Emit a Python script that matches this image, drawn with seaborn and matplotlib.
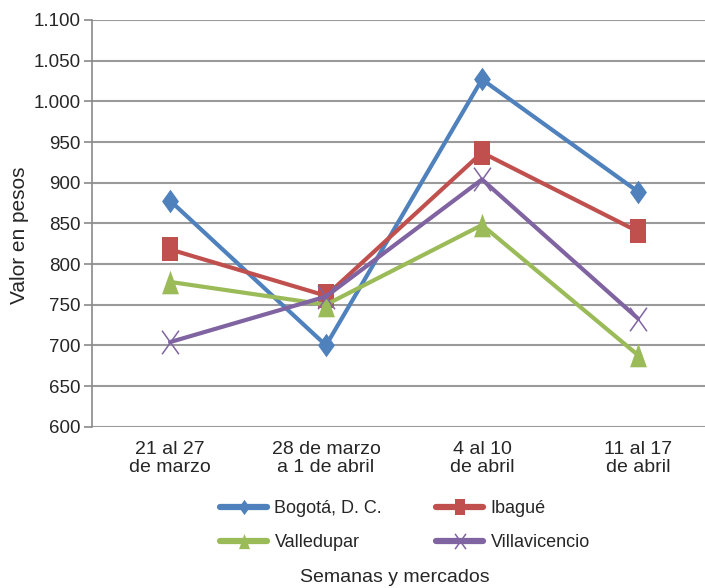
import pandas as pd
import matplotlib
matplotlib.use("Agg")
import matplotlib.pyplot as plt
import matplotlib.ticker as mticker
from matplotlib.path import Path
import seaborn as sns

# Data
semanas = ["21 al 27\nde marzo", "28 de marzo\na 1 de abril", "4 al 10\nde abril", "11 al 17\nde abril"]
bogota = [878, 700, 1027, 889]
ibague = [818, 761, 937, 840]
valledupar = [778, 750, 848, 688]
villavicencio = [704, 760, 904, 733]
mercados = ["Bogotá, D. C.", "Ibagué", "Valledupar", "Villavicencio"]

colors = ["#4F81BD", "#C0504D", "#9BBB59", "#8064A2"]

# markers are a bit taller than wide in the original
w, h = 0.5, 0.7
diamond = Path([(0, h), (w, 0), (0, -h), (-w, 0), (0, h)], closed=True)
square = Path([(-w, -h), (w, -h), (w, h), (-w, h), (-w, -h)], closed=True)
triangle = Path([(0, h), (w, -h), (-w, -h), (0, h)], closed=True)
cross = Path([(-w, -h), (w, h), (-w, h), (w, -h)],
             [Path.MOVETO, Path.LINETO, Path.MOVETO, Path.LINETO])
markers = [diamond, square, triangle, cross]

df = pd.DataFrame({
    "Semana": semanas * 4,
    "Valor": bogota + ibague + valledupar + villavicencio,
    "Mercado": [m for m in mercados for _ in semanas],
})

sns.set_style("white")
plt.rcParams["font.family"] = ["Liberation Sans", "DejaVu Sans"]

fig = plt.figure(figsize=(7.05, 5.88), dpi=100)
ax = fig.add_axes([92 / 705, 1 - 426.7 / 588, 624 / 705, 406.7 / 588])

sns.lineplot(data=df, x="Semana", y="Valor", hue="Mercado",
             palette=colors, sort=False, linewidth=3, ax=ax, legend=False)
for line, m, c in zip(ax.lines, markers, colors):
    line.set_marker(m)
    line.set_markersize(17)
    line.set_markeredgecolor(c)
    line.set_markeredgewidth(1.1 if m is cross else 0)
    line.set_markerfacecolor(c)

ax.set_ylim(600, 1100)
ax.set_xlim(-0.5, 3.5)
ax.yaxis.set_major_locator(mticker.MultipleLocator(50))
ax.yaxis.set_major_formatter(mticker.FuncFormatter(lambda v, p: f"{int(v):,}".replace(",", ".")))
ax.grid(axis="y", color="#9a9a9a", linewidth=1.5)
ax.set_axisbelow(True)
for s in ["top", "right", "bottom"]:
    ax.spines[s].set_visible(False)
ax.spines["left"].set_color("#8a8a8a")
ax.spines["left"].set_linewidth(1.2)
ax.tick_params(axis="y", length=6, width=1.2, color="#8a8a8a", labelsize=13.5, pad=2, left=True)
ax.tick_params(axis="x", length=0, labelsize=14, pad=10)
for t in ax.get_xticklabels():
    t.set_linespacing(1.1)
ax.set_xlabel("")
ax.set_ylabel("Valor en pesos", fontsize=15)
ax.yaxis.set_label_coords(-0.101, 0.47)

handles = [plt.Line2D([], [], color=c, marker=m, markersize=11, linewidth=4.5,
                      markeredgecolor=c, markeredgewidth=1.1 if m is cross else 0)
           for c, m in zip(colors, markers)]
# matplotlib fills legends by column, the original reads by row
order = [0, 2, 1, 3]
fig.legend([handles[i] for i in order], [mercados[i] for i in order],
           loc="center", bbox_to_anchor=(405 / 705, 1 - 525.5 / 588),
           ncol=2, frameon=False, fontsize=13, handlelength=2.6, handletextpad=0.4,
           columnspacing=3.0, labelspacing=0.95)

fig.text(395 / 705, 1 - 569 / 588, "Semanas y mercados", ha="center", va="top", fontsize=14)

plt.savefig("out.png", dpi=100)
